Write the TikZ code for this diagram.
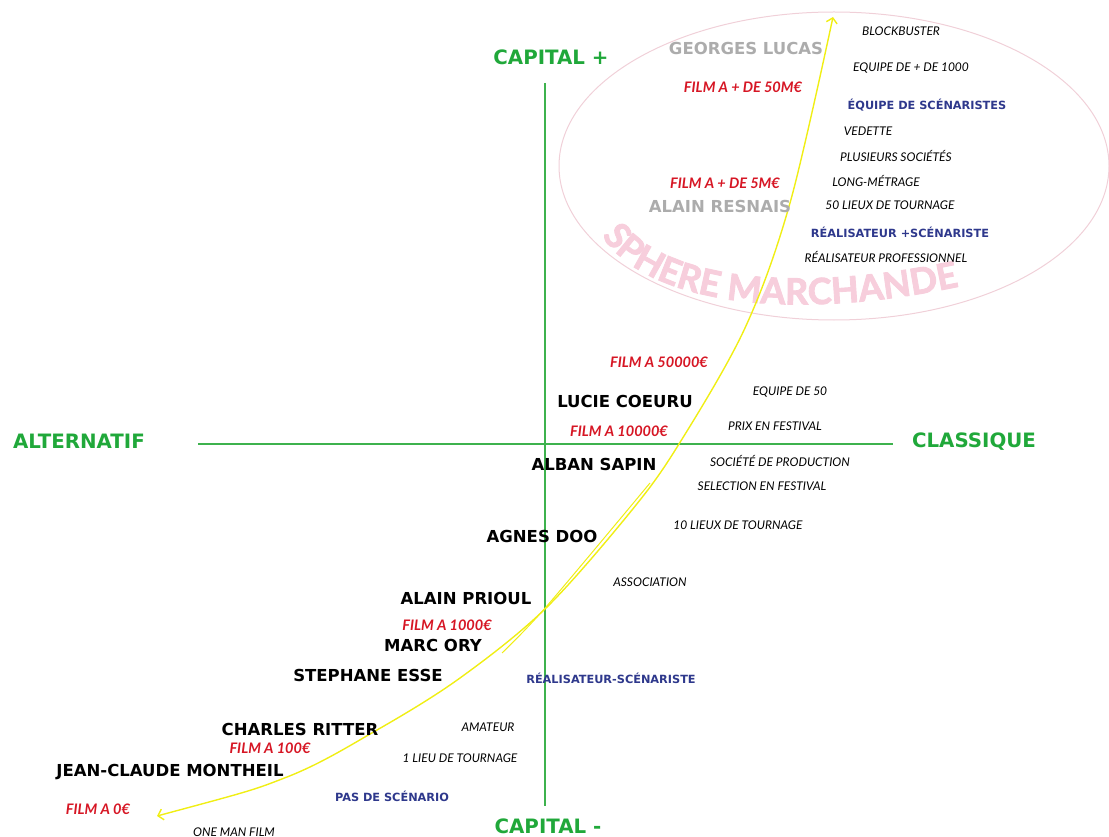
\documentclass[tikz,border=0pt]{standalone}
\usepackage{fontspec}
\setmainfont{Lato}
\newfontfamily\headfont{DejaVu Sans}
\newfontfamily\spherefont{Lato}[BoldFeatures={FakeBold=2.5}]
\usepackage{tikz}
\usetikzlibrary{arrows.meta,decorations.text}
\definecolor{axisgreen}{RGB}{32,168,58}
\definecolor{linegreen}{RGB}{62,178,78}
\definecolor{budgetred}{RGB}{214,22,36}
\definecolor{stargray}{RGB}{172,172,172}
\definecolor{roleblue}{RGB}{46,56,140}
\definecolor{pathyellow}{RGB}{240,238,20}
\definecolor{spherepink}{RGB}{247,206,220}
\definecolor{ellipsepink}{RGB}{240,208,216}

\begin{document}
\begin{tikzpicture}[x=1pt,y=-1pt,>=Stealth, every node/.style={inner sep=0pt,anchor=base}]
    \tikzset{axlabel/.style={text=axisgreen,font=\headfont\bfseries\fontsize{19.8}{20}\selectfont}}
    \tikzset{pname/.style={font=\headfont\bfseries\fontsize{16.5}{17}\selectfont}}
    \tikzset{star/.style={pname,text=stargray}}
    \tikzset{budget/.style={text=budgetred,font=\bfseries\itshape\fontsize{14.5}{15}\selectfont}}
    \tikzset{trait/.style={font=\itshape\fontsize{12}{12}\selectfont}}
    \tikzset{scen/.style={text=roleblue,font=\headfont\bfseries\fontsize{11.3}{12}\selectfont}}
    \tikzset{axis/.style={draw=linegreen,line width=1.6pt}}
    \tikzset{journey/.style={draw=pathyellow,line width=1.4pt}}

    \useasboundingbox (0,0) rectangle (1109,837);

    % Sphere marchande
    \draw[ellipsepink,line width=1pt] (834,166) ellipse[x radius=275, y radius=154];
    \path[decorate,decoration={text along path,text align=left,text color=spherepink,
        text={|\spherefont\bfseries\fontsize{36}{36}\selectfont|SPHERE MARCHANDE}}]
        (602,236) .. controls (647,303) and (790,325) .. (975,283);

    % Axes
    \coordinate (ctop) at (545,83);
    \coordinate (cbot) at (545,806);
    \coordinate (aleft) at (198,444);
    \coordinate (aright) at (893,444);
    \draw[axis] (ctop) -- (cbot);
    \draw[axis] (aleft) -- (aright);
    \node[axlabel] (capplus) at (551,65) {CAPITAL +};
    \node[axlabel] (capminus) at (548,833) {CAPITAL -};
    \node[axlabel] (altern) at (79,448) {ALTERNATIF};
    \node[axlabel] (classique) at (974,447) {CLASSIQUE};

    % Journey
    \coordinate (jlo) at (157,816);
    \coordinate (jhi) at (833,17);
    \draw[journey,{Straight Barb[length=5pt,width=11pt]}-{Straight Barb[length=5pt,width=11pt]}]
        plot[smooth,tension=0.55] coordinates {(jlo) (287,777) (377,730) (460,678) (546,608)
        (632,510) (679,444) (745,328) (790,203) (jhi)};
    \draw[journey,line width=1pt] plot[smooth,tension=0.5] coordinates {(650,483) (546,607) (502,653)};

    % Names
    \node[star] (lucas) at (746,55) {GEORGES LUCAS};
    \node[star] (resnais) at (720,213) {ALAIN RESNAIS};
    \node[pname] (coeuru) at (625,407) {LUCIE COEURU};
    \node[pname] (sapin) at (594,470) {ALBAN SAPIN};
    \node[pname] (doo) at (542,542) {AGNES DOO};
    \node[pname] (prioul) at (466,604) {ALAIN PRIOUL};
    \node[pname] (ory) at (433,651) {MARC ORY};
    \node[pname] (esse) at (368,681) {STEPHANE ESSE};
    \node[pname] (ritter) at (300,735) {CHARLES RITTER};
    \node[pname] (montheil) at (170,776) {JEAN-CLAUDE MONTHEIL};

    % Budgets
    \node[budget] (b50m) at (743,93) {FILM A + DE 50M€};
    \node[budget] (b5m) at (725,189) {FILM A + DE 5M€};
    \node[budget] (b50k) at (659,367) {FILM A 50000€};
    \node[budget] (b10k) at (619,436) {FILM A 10000€};
    \node[budget] (b1k) at (447,630) {FILM A 1000€};
    \node[budget] (b100) at (270,753) {FILM A 100€};
    \node[budget] (b0) at (98,814) {FILM A 0€};

    % Traits
    \node[trait] (blockbuster) at (901,36) {BLOCKBUSTER};
    \node[trait] (equipek) at (911,72) {EQUIPE DE + DE 1000};
    \node[trait] (vedette) at (868,136) {VEDETTE};
    \node[trait] (societes) at (896,162) {PLUSIEURS SOCIÉTÉS};
    \node[trait] (longm) at (876,187) {LONG-MÉTRAGE};
    \node[trait] (lieux50) at (890,210) {50 LIEUX DE TOURNAGE};
    \node[trait] (realpro) at (886,262) {RÉALISATEUR PROFESSIONNEL};
    \node[trait] (equipe50) at (790,395) {EQUIPE DE 50};
    \node[trait] (prix) at (775,430) {PRIX EN FESTIVAL};
    \node[trait] (societe) at (780,466) {SOCIÉTÉ DE PRODUCTION};
    \node[trait] (selection) at (762,490) {SELECTION EN FESTIVAL};
    \node[trait] (lieux10) at (738,529) {10 LIEUX DE TOURNAGE};
    \node[trait] (association) at (650,586) {ASSOCIATION};
    \node[trait] (amateur) at (488,731) {AMATEUR};
    \node[trait] (lieu1) at (460,762) {1 LIEU DE TOURNAGE};
    \node[trait] (oneman) at (234,836) {ONE MAN FILM};

    % Scenario
    \node[scen] (equipescen) at (927,110) {ÉQUIPE DE SCÉNARISTES};
    \node[scen] (realplus) at (900,238) {RÉALISATEUR +SCÉNARISTE};
    \node[scen] (realscen) at (611,683) {RÉALISATEUR-SCÉNARISTE};
    \node[scen] (passcen) at (392,801) {PAS DE SCÉNARIO};
\end{tikzpicture}
\end{document}
